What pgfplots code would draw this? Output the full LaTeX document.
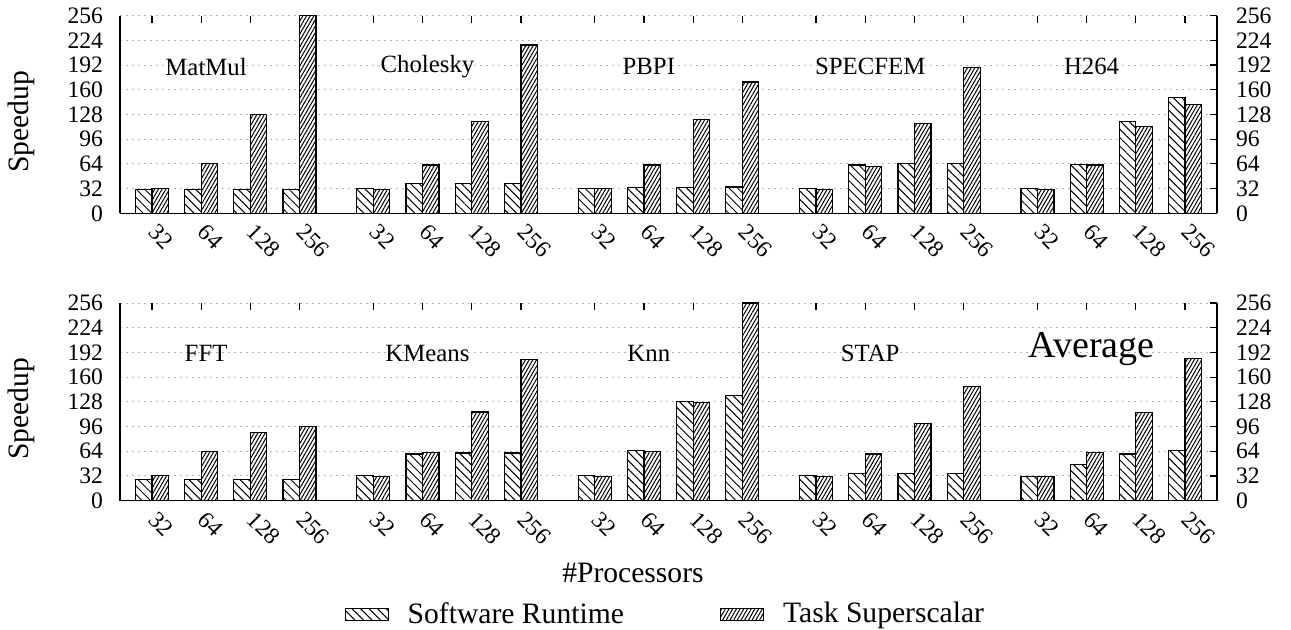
\documentclass[border=0pt]{standalone}
\usepackage{fontspec}
\setmainfont{Liberation Serif}
\usepackage{pgfplots}
\usepackage{pgfplotstable}
\pgfplotsset{compat=1.18}
\usetikzlibrary{patterns.meta}

\pgfplotstableread{
x sw ts
0 31 32
1 31 64
2 31 128
3 31 256
4.5 32.4 31
5.5 39 62.6
6.5 39 119
7.5 39 218
9 32 32
10 33.7 62.6
11 33.7 121
12 34 170
13.5 32.4 31
14.5 62.6 61
15.5 64.8 116.6
16.5 64.8 189
18 32 31
19 63.5 62.6
20 119 112
21 150 141
}\toptable

\pgfplotstableread{
x sw ts
0 27.7 32.9
1 27.7 64
2 27.7 88.6
3 27.7 96.4
4.5 32.9 31.6
5.5 60.5 62.7
6.5 61.8 115
7.5 61.8 182.5
9 32.9 31.6
10 65.3 64
11 128.9 127.6
12 136.6 256
13.5 32.9 31.6
14.5 35.5 60.5
15.5 35.5 100
16.5 35.5 148
18 31.6 31.6
19 47 62.7
20 60.5 114.6
21 65.3 184.6
}\bottable

\newcommand{\tickfont}{\fontsize{11.8}{13}\selectfont}
\newcommand{\labfont}{\fontsize{12.4}{14}\selectfont}
\newcommand{\bigfont}{\fontsize{14.8}{17}\selectfont}

\pgfplotsset{
  common/.style={
    scale only axis, width=548.5pt, height=98.8pt,
    xmin=-0.65, xmax=21.65, ymin=0, ymax=256,
    ytick={0,32,...,256},
    xtick={0,1,2,3,4.5,5.5,6.5,7.5,9,10,11,12,13.5,14.5,15.5,16.5,18,19,20,21},
    /pgf/number format/assume math mode=true,
    tick label style={font=\tickfont},
    clip=false,
  },
  mainax/.style={
    common,
    axis x line*=bottom, axis y line*=left,
    axis line style={line width=0.7pt},
    xticklabels={32,64,128,256,32,64,128,256,32,64,128,256,32,64,128,256,32,64,128,256},
    xticklabel style={xshift=-2pt, yshift=-5pt, rotate=-45, anchor=west},
    yticklabel style={xshift=-5pt},
    x tick style={draw=none}, y tick style={draw=none},
    ymajorgrids, major grid style={gray!60, line width=0.5pt, dash pattern=on 1.2pt off 1.8pt},
    bar width=0.335,
  },
  twinax/.style={
    common,
    axis y line*=right,
    x axis line style={draw=none},
    y axis line style={line width=0.7pt},
    xtick pos=right,
    xticklabels={},
    yticklabel style={xshift=6pt},
    tick align=inside, major tick length=3.5pt,
    x tick style={draw=black, solid, line width=0.6pt},
    y tick style={draw=black, solid, line width=0.6pt},
  },
  swbar/.style={ybar, bar shift=-0.1675, draw=black, line width=0.6pt, fill=white,
    postaction={pattern={Lines[angle=-45,distance=3pt,line width=0.5pt]}}},
  tsbar/.style={ybar, bar shift=0.1675, draw=black, line width=0.6pt, fill=white,
    postaction={pattern={Lines[angle=60,distance=1.6pt,line width=0.5pt]}}},
}

\begin{document}
\begin{tikzpicture}
% ---------- top panel ----------
\begin{axis}[mainax, at={(0,0)}, anchor=south west]
  \addplot[swbar] table[x=x,y=sw]{\toptable};
  \addplot[tsbar] table[x=x,y=ts]{\toptable};
  \node[font=\labfont] at (axis cs:1.1,190) {MatMul};
  \node[font=\labfont] at (axis cs:5.6,190) {Cholesky};
  \node[font=\labfont] at (axis cs:10.1,190) {PBPI};
  \node[font=\labfont] at (axis cs:14.6,190) {SPECFEM};
  \node[font=\labfont] at (axis cs:19.1,190) {H264};
  \node[font=\bigfont, rotate=90] at (rel axis cs:-0.0902,0.462) {Speedup};
\end{axis}
\begin{axis}[twinax, at={(0,0)}, anchor=south west]
\end{axis}
% ---------- bottom panel ----------
\begin{axis}[mainax, at={(0,-143.7pt)}, anchor=south west,
  legend columns=2,
  legend style={draw=none, fill=none, at={(0.498,-0.574)}, anchor=center, font=\bigfont,
    /tikz/every odd column/.append style={column sep=7.5pt},
    /tikz/every even column/.append style={column sep=46pt}},
  legend image code/.code={\draw[#1] (0pt,-3pt) rectangle (21.5pt,3pt);},
  ]
  \addplot[swbar] table[x=x,y=sw]{\bottable};
  \addlegendentry{Software Runtime}
  \addplot[tsbar] table[x=x,y=ts]{\bottable};
  \addlegendentry{Task Superscalar}
  \node[font=\labfont] at (axis cs:1.1,191) {FFT};
  \node[font=\labfont] at (axis cs:5.6,191) {KMeans};
  \node[font=\labfont] at (axis cs:10.1,191) {Knn};
  \node[font=\labfont] at (axis cs:14.6,191) {STAP};
  \node[font=\fontsize{19}{22}\selectfont] at (axis cs:19.1,197) {Average};
  \node[font=\bigfont, rotate=90] at (rel axis cs:-0.0902,0.464) {Speedup};
  \node[font=\bigfont] at (rel axis cs:0.4676,-0.366) {\#Processors};
\end{axis}
\begin{axis}[twinax, at={(0,-143.7pt)}, anchor=south west]
\end{axis}
\pgfresetboundingbox
\path[use as bounding box] (-60pt,-208.35pt) rectangle (585.5pt,106.65pt);
\end{tikzpicture}
\end{document}
